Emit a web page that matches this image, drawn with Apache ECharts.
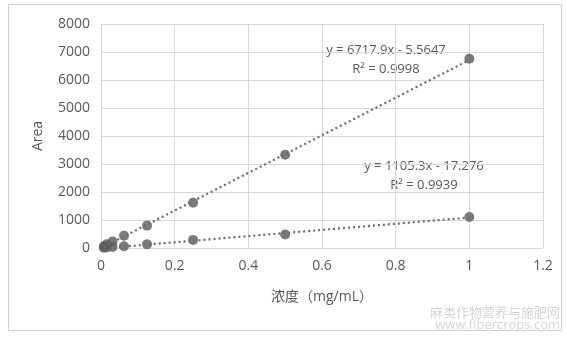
<!DOCTYPE html>
<html><head><meta charset="utf-8">
<script src="https://cdn.jsdelivr.net/npm/echarts@6/dist/echarts.min.js"></script>
<style>html,body{margin:0;padding:0;background:#fff}#c{width:567px;height:340px}</style>
</head><body><div id="c"></div>
<script>
var concentrations = [0.0078, 0.0156, 0.03125, 0.0625, 0.125, 0.25, 0.5, 1];
var seriesA = [60, 130, 230, 440, 800, 1620, 3330, 6760];
var seriesB = [10, 20, 40, 60, 130, 290, 480, 1110];
var eqA = {slope: 6717.9, intercept: -5.5647, text: 'y = 6717.9x - 5.5647', r2: 'R² = 0.9998'};
var eqB = {slope: 1105.3, intercept: -17.276, text: 'y = 1105.3x - 17.276', r2: 'R² = 0.9939'};
var xTicks = [0, 0.2, 0.4, 0.6, 0.8, 1, 1.2];
var yTicks = [0, 1000, 2000, 3000, 4000, 5000, 6000, 7000, 8000];

function trend(eq) {
  var x0 = concentrations[0], x1 = concentrations[concentrations.length - 1];
  return [[x0, eq.slope * x0 + eq.intercept], [x1, eq.slope * x1 + eq.intercept]];
}
function pts(vals) { return concentrations.map(function (c, i) { return [c, vals[i]]; }); }

var font = '"Open Sans", "Noto Sans CJK SC", sans-serif';
var txt = function (s, x, y, size, color, align) {
  return {type: 'text', style: {text: s, x: x, y: y, textAlign: align || 'center', textVerticalAlign: 'middle', fill: color || '#595959', font: (size || 13) + 'px ' + font}};
};
var chart = echarts.init(document.getElementById('c'));
chart.setOption({
  animation: false,
  grid: {left: 101, right: 24, top: 24, bottom: 92},
  xAxis: {
    type: 'value', min: 0, max: 1.2, interval: 0.2,
    axisLine: {show: false}, axisTick: {show: false},
    splitLine: {lineStyle: {color: '#d9d9d9', width: 1}},
    axisLabel: {color: '#595959', fontSize: 14, fontFamily: font, margin: 11,
      formatter: function (v) { return String(Math.round(v * 10) / 10); }},
    name: '浓度（mg/mL）', nameLocation: 'middle', nameGap: 42,
    nameTextStyle: {color: '#595959', fontSize: 14, fontFamily: font}
  },
  yAxis: {
    type: 'value', min: 0, max: 8000, interval: 1000,
    axisLine: {show: false}, axisTick: {show: false},
    splitLine: {lineStyle: {color: '#d9d9d9', width: 1}},
    axisLabel: {color: '#595959', fontSize: 14, fontFamily: font, margin: 11,
      formatter: function (v) { return String(v); }},
    name: 'Area', nameLocation: 'middle', nameGap: 56, nameRotate: 90,
    nameTextStyle: {color: '#595959', fontSize: 14, fontFamily: font}
  },
  series: [
    {type: 'line', data: trend(eqA), symbol: 'none', silent: true,
      lineStyle: {color: '#6b6b6b', width: 2.2, type: [2, 3]}},
    {type: 'line', data: trend(eqB), symbol: 'none', silent: true,
      lineStyle: {color: '#6b6b6b', width: 2.2, type: [2, 3]}},
    {type: 'scatter', data: pts(seriesA), symbolSize: 10, itemStyle: {color: '#5a5a5a'}},
    {type: 'scatter', data: pts(seriesB), symbolSize: 10, itemStyle: {color: '#5a5a5a'}}
  ],
  graphic: [
    {type: 'rect', shape: {x: 8.5, y: 4.5, width: 553, height: 326}, style: {fill: 'none', stroke: '#cfcfcf', lineWidth: 1}, z: -1},
    txt(eqA.text, 386, 50, 13),
    txt(eqA.r2, 386, 69, 13),
    txt(eqB.text, 424, 166, 13),
    txt(eqB.r2, 424, 185, 13),
    {type: 'text', style: {text: '麻类作物营养与施肥网', x: 560, y: 312, textAlign: 'right', textVerticalAlign: 'middle', fill: '#d4d4d4', font: '13px "Noto Sans CJK SC", sans-serif'}},
    txt('www.fibercrops.com', 560, 325, 13, '#d4d4d4', 'right')
  ]
});
</script></body></html>
